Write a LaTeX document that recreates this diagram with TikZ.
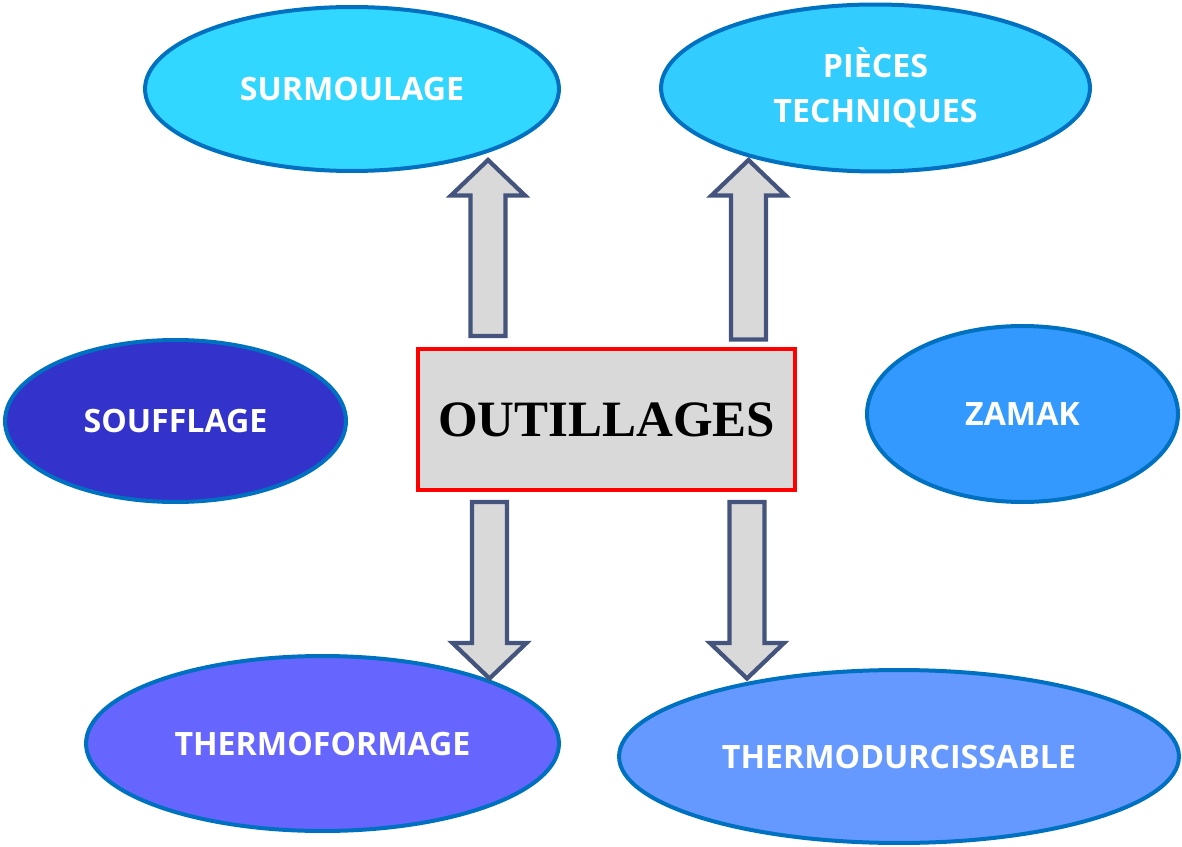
\documentclass[tikz,border=0pt]{standalone}
\usepackage{fontspec}
\setmainfont{Liberation Serif}
\setsansfont{Open Sans}
\usetikzlibrary{shapes.geometric, calc}
\definecolor{ringblue}{RGB}{0, 112, 192}
\definecolor{cyanone}{RGB}{50, 215, 255}
\definecolor{cyantwo}{RGB}{51, 204, 255}
\definecolor{deepblue}{RGB}{51, 51, 204}
\definecolor{skyblue}{RGB}{51, 153, 255}
\definecolor{violetblue}{RGB}{102, 102, 255}
\definecolor{softblue}{RGB}{102, 153, 255}
\definecolor{arrowline}{RGB}{68, 84, 125}
\definecolor{boxgrey}{RGB}{217, 217, 217}
\newcommand{\blockarrow}[2]{%
  \coordinate (hb) at ($(#2)!0.71cm!(#1)$);
  \draw[bigarr] ($(#1)!0.35cm!90:(#2)$) -- ($(hb)!0.35cm!90:(#2)$) -- ($(hb)!0.74cm!90:(#2)$) -- (#2)
    -- ($(hb)!0.74cm!-90:(#2)$) -- ($(hb)!0.35cm!-90:(#2)$) -- ($(#1)!0.35cm!-90:(#2)$) -- cycle;}

\begin{document}
\begin{tikzpicture}[x=0.02cm, y=-0.02cm,
        bubble/.style={ellipse, draw=ringblue, line width=0.08cm, inner sep=0pt, text=white, align=center,
          font=\sffamily\bfseries\fontsize{18.3pt}{25.6pt}\selectfont},
        hub/.style={rectangle, draw=red, fill=boxgrey, line width=0.08cm, minimum width=7.54cm, minimum height=2.82cm,
          font=\rmfamily\bfseries\fontsize{29pt}{34pt}\selectfont},
        bigarr/.style={draw=arrowline, fill=boxgrey, line width=0.085cm, line join=miter}
      ]
        \useasboundingbox (0,0) rectangle (1182,847);
        \node[bubble, fill=cyanone, minimum width=8.28cm, minimum height=3.28cm] (surm) at (352,89) {SURMOULAGE};
        \node[bubble, fill=cyantwo, minimum width=8.58cm, minimum height=3.34cm] (piec) at (875.5,88) {PIÈCES\\TECHNIQUES};
        \node[bubble, fill=deepblue, minimum width=6.82cm, minimum height=3.24cm] (souf) at (175.5,421) {SOUFFLAGE};
        \node[bubble, fill=skyblue, minimum width=6.22cm, minimum height=3.52cm] (zama) at (1022.5,414) {ZAMAK};
        \node[bubble, fill=violetblue, minimum width=9.46cm, minimum height=3.5cm] (tfor) at (322.5,743.5) {THERMOFORMAGE};
        \node[bubble, fill=softblue, minimum width=11.2cm, minimum height=3.46cm] (tdur) at (899,756.5) {THERMODURCISSABLE};
        \node[hub] (outil) at (606.5,419.5) {OUTILLAGES};
        % arrow ends
        \coordinate (up1) at (488,336);
        \coordinate (up1tip) at (488,160);
        \coordinate (up2) at (748.5,339.5);
        \coordinate (up2tip) at (748.5,160);
        \coordinate (dn1) at (489.5,502);
        \coordinate (dn1tip) at (489.5,678.5);
        \coordinate (dn2) at (747,502);
        \coordinate (dn2tip) at (747,678.5);
        \blockarrow{up1}{up1tip}
        \blockarrow{up2}{up2tip}
        \blockarrow{dn1}{dn1tip}
        \blockarrow{dn2}{dn2tip}
      \end{tikzpicture}
\end{document}
